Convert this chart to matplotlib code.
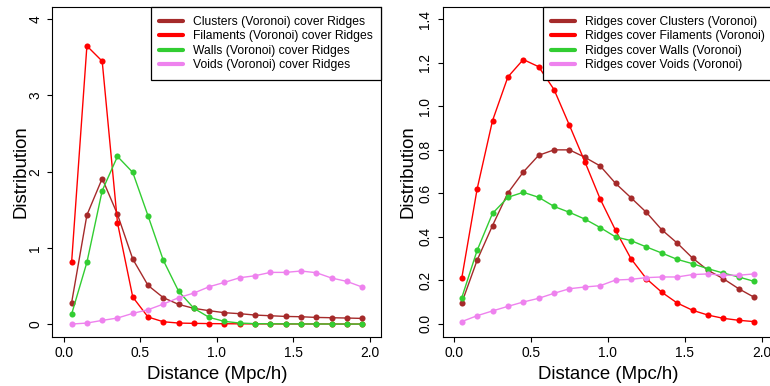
import matplotlib
matplotlib.use("Agg")
import matplotlib.pyplot as plt
import numpy as np

plt.rcParams['font.family'] = ['Liberation Sans', 'DejaVu Sans']

distance = [0.05, 0.15, 0.25, 0.35, 0.45, 0.55, 0.65, 0.75, 0.85, 0.95,
            1.05, 1.15, 1.25, 1.35, 1.45, 1.55, 1.65, 1.75, 1.85, 1.95]

# Left panel: structures (Voronoi) cover Ridges
left_clusters = [0.28, 1.43, 1.91, 1.44, 0.853, 0.507, 0.346, 0.258, 0.206, 0.175,
                 0.149, 0.136, 0.118, 0.109, 0.100, 0.096, 0.087, 0.083, 0.079, 0.074]
left_filaments = [0.81, 3.65, 3.45, 1.33, 0.354, 0.092, 0.030, 0.013, 0.009, 0.006,
                  0.004, 0.003, 0.002, 0.002, 0.001, 0.001, 0.001, 0.001, 0.0, 0.0]
left_walls = [0.13, 0.81, 1.75, 2.20, 1.99, 1.42, 0.836, 0.43, 0.206, 0.087,
              0.035, 0.013, 0.005, 0.003, 0.002, 0.001, 0.001, 0.0, 0.0, 0.0]
left_voids = [0.0, 0.013, 0.048, 0.079, 0.14, 0.188, 0.262, 0.346, 0.407, 0.49,
              0.547, 0.608, 0.634, 0.678, 0.678, 0.696, 0.674, 0.604, 0.56, 0.486]

# Right panel: Ridges cover structures (Voronoi)
right_clusters = [0.0965, 0.293, 0.452, 0.602, 0.698, 0.775, 0.80, 0.80, 0.766, 0.726,
                  0.646, 0.58, 0.513, 0.433, 0.372, 0.303, 0.247, 0.208, 0.162, 0.123]
right_filaments = [0.21, 0.62, 0.934, 1.135, 1.215, 1.182, 1.077, 0.913, 0.746, 0.574,
                   0.43, 0.30, 0.208, 0.146, 0.0965, 0.063, 0.041, 0.026, 0.017, 0.011]
right_walls = [0.12, 0.338, 0.508, 0.582, 0.605, 0.582, 0.54, 0.513, 0.482, 0.443,
               0.40, 0.383, 0.354, 0.326, 0.297, 0.277, 0.254, 0.234, 0.216, 0.196]
right_voids = [0.011, 0.038, 0.06, 0.081, 0.101, 0.118, 0.141, 0.162, 0.17, 0.176,
               0.202, 0.205, 0.213, 0.216, 0.216, 0.227, 0.23, 0.224, 0.224, 0.23]

left_labels = ["Clusters (Voronoi) cover Ridges", "Filaments (Voronoi) cover Ridges",
               "Walls (Voronoi) cover Ridges", "Voids (Voronoi) cover Ridges"]
right_labels = ["Ridges cover Clusters (Voronoi)", "Ridges cover Filaments (Voronoi)",
                "Ridges cover Walls (Voronoi)", "Ridges cover Voids (Voronoi)"]
colors = ["#A52A2A", "#FF0000", "#32CD32", "#EE82EE"]

x_ticks = [0.0, 0.5, 1.0, 1.5, 2.0]
x_ticklabels = ["0.0", "0.5", "1.0", "1.5", "2.0"]
left_yticks = [0, 1, 2, 3, 4]
left_yticklabels = ["0", "1", "2", "3", "4"]
right_yticks = [0.0, 0.2, 0.4, 0.6, 0.8, 1.0, 1.2, 1.4]
right_yticklabels = ["0.0", "0.2", "0.4", "0.6", "0.8", "1.0", "1.2", "1.4"]

W, H = 770, 386
fig = plt.figure(figsize=(W / 100, H / 100), dpi=100)


def px_axes(x0, x1, ytop, ybot):
    return fig.add_axes([x0 / W, (H - ybot) / H, (x1 - x0) / W, (ybot - ytop) / H])


ax1 = px_axes(52.5, 381.2, 7.3, 336.7)
ax2 = px_axes(442.5, 773.3, 7.3, 336.7)

panels = [
    (ax1, [left_clusters, left_filaments, left_walls, left_voids], left_labels,
     left_yticks, left_yticklabels, (-0.166, 4.157), -0.097),
    (ax2, [right_clusters, right_filaments, right_walls, right_voids], right_labels,
     right_yticks, right_yticklabels, (-0.0584, 1.455), -0.103),
]

for ax, series, labels, yt, ytl, ylim, ylab_x in panels:
    for vals, col, lab in zip(series, colors, labels):
        ax.plot(distance, vals, color=col, lw=1.0, marker='o', markersize=4.4,
                markeredgewidth=0, label=lab)
    ax.set_xlim(-0.075, 2.075)
    ax.set_ylim(*ylim)
    ax.set_xticks(x_ticks)
    ax.set_xticklabels(x_ticklabels)
    ax.set_yticks(yt)
    ax.set_yticklabels(ytl, rotation=90, va='center')
    ax.tick_params(axis='both', direction='out', length=3.4, width=0.8,
                   labelsize=9.9, color='black')
    ax.tick_params(axis='x', pad=3.0)
    ax.tick_params(axis='y', pad=3.8)
    for sp in ax.spines.values():
        sp.set_linewidth(0.8)
        sp.set_color('black')
    ax.set_xlabel("Distance (Mpc/h)", fontsize=13.4, va='center')
    ax.xaxis.set_label_coords(0.5, -0.114)
    ax.set_ylabel("Distribution", fontsize=13.4, va='center')
    ax.yaxis.set_label_coords(ylab_x, 0.5)

    handles = [plt.Line2D([], [], color=c, lw=3.0, solid_capstyle='round') for c in colors]
    leg = ax.legend(handles, labels, loc='upper right', bbox_to_anchor=(1.0, 1.0),
                    borderaxespad=0, fontsize=8.7, frameon=True, fancybox=False,
                    edgecolor='black', framealpha=1.0, labelspacing=0.21,
                    handlelength=2.0, handletextpad=0.8, borderpad=0.7)
    leg.get_frame().set_linewidth(0.9)

fig.savefig("out.png", dpi=100)
